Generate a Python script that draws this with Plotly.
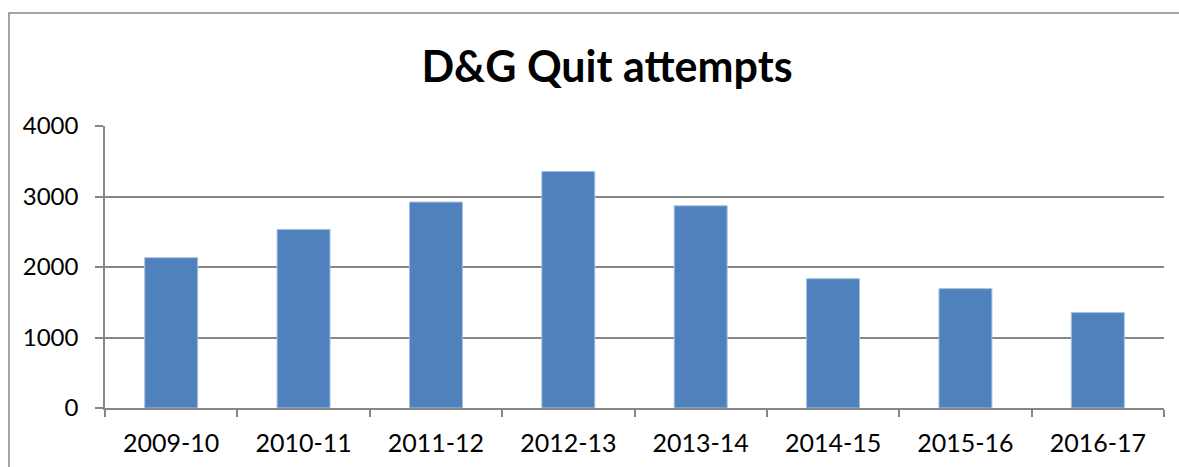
import plotly.graph_objects as go

categories = ["2009-10", "2010-11", "2011-12", "2012-13", "2013-14", "2014-15", "2015-16", "2016-17"]
quit_attempts = [2132, 2533, 2921, 3354, 2868, 1834, 1693, 1353]
y_ticks = [0, 1000, 2000, 3000, 4000]

W, H = 1179, 467
ml, mr, mt, mb = 105, 15, 126, 59
pw, ph = W - ml - mr, H - mt - mb

fig = go.Figure()
fig.add_trace(go.Bar(
    x=categories, y=quit_attempts,
    marker=dict(color="#4F81BD", line=dict(color="#A7BFDE", width=1)),
    width=0.4,
))

grid = "#868686"
font = "Lato, Carlito, Calibri, 'Open Sans', sans-serif"

def px_to_paper_x(px):
    return (px - ml) / pw

def px_to_paper_y(py):
    return (H - mb - py) / ph

fig.update_layout(
    width=W, height=H,
    margin=dict(l=ml, r=mr, t=mt, b=mb, autoexpand=False),
    paper_bgcolor="white", plot_bgcolor="white",
    showlegend=False,
    title=dict(text="<b>D&G Quit attempts</b>", x=607 / W, xref="container", xanchor="center",
               y=1 - 67 / H, yref="container", yanchor="middle",
               font=dict(family=font, size=43, color="black")),
    font=dict(family=font, size=22, color="black"),
    xaxis=dict(type="category", showline=True, linecolor=grid, linewidth=1.5, ticks="outside",
               tickson="boundaries", ticklen=7, tickcolor=grid, tickwidth=1.5, showgrid=False,
               tickfont=dict(size=25), ticklabelstandoff=12, automargin=False),
    yaxis=dict(range=[0, 4000], tickvals=y_ticks, showline=True, linecolor=grid, linewidth=1.5,
               ticks="outside", ticklen=8, tickcolor=grid, tickwidth=1.5,
               showgrid=True, gridcolor=grid, gridwidth=1.5, zeroline=False,
               tickfont=dict(size=24), ticklabelstandoff=12, automargin=False),
    shapes=[
        dict(type="rect", xref="paper", yref="paper", layer="below",
             x0=px_to_paper_x(9), x1=px_to_paper_x(1260), y0=px_to_paper_y(13), y1=px_to_paper_y(540),
             line=dict(color=grid, width=1.5), fillcolor="rgba(0,0,0,0)"),
    ],
)

fig.write_html("out.html", config={"displayModeBar": False},
               post_script="document.body.style.margin='0';document.body.style.overflow='hidden';")
